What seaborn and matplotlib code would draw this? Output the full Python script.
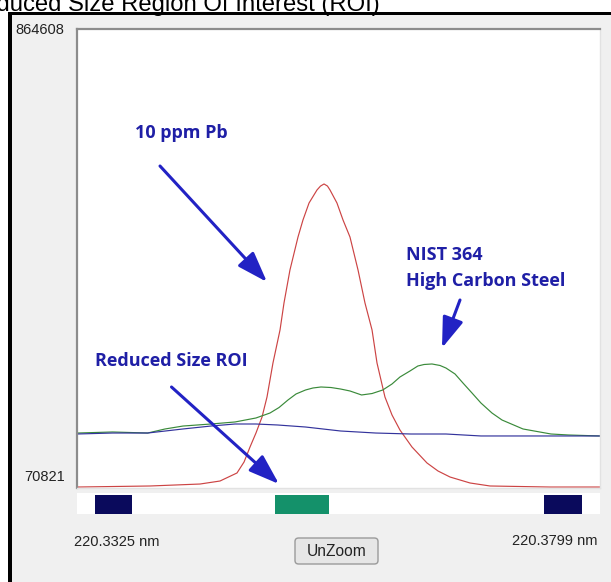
import numpy as np
import pandas as pd
import matplotlib
matplotlib.use("Agg")
import matplotlib.pyplot as plt
from matplotlib.patches import Rectangle, FancyBboxPatch, ArrowStyle, FancyArrowPatch
import seaborn as sns

# ---------------- data ----------------
wl_min, wl_max = 220.3325, 220.3799
int_min, int_max = 70821, 864608

pb_wl = [220.3325, 220.33912, 220.34365, 220.34546, 220.34700, 220.34764, 220.34818,
         220.34872, 220.34927, 220.34972, 220.35026, 220.35090, 220.35126, 220.35180,
         220.35253, 220.35298, 220.35353, 220.35425, 220.35457, 220.35489, 220.35520,
         220.35543, 220.35606, 220.35661, 220.35724, 220.35797, 220.35860, 220.35924,
         220.35969, 220.36005, 220.36041, 220.36105, 220.36177, 220.36286, 220.36422,
         220.36522, 220.36631, 220.36812, 220.36993, 220.37537, 220.3799]
pb_int = [72500, 74300, 77700, 82900, 96800, 115800, 141700,
          165900, 193600, 228200, 287000, 344100, 390800, 447800,
          504900, 534300, 563700, 586200, 593000, 596600, 593000,
          586200, 563700, 534300, 504900, 447800, 390800, 344100,
          287000, 257600, 228200, 197100, 171100, 141700, 114100,
          100200, 89800, 79500, 74300, 72500, 72500]

steel_wl = [220.33255, 220.33573, 220.33891, 220.34048, 220.34211, 220.34464, 220.34682,
            220.34872, 220.34999, 220.35081, 220.35162, 220.35235, 220.35321, 220.35389,
            220.35461, 220.35552, 220.35639, 220.35724, 220.35829, 220.35924, 220.36021,
            220.36105, 220.36177, 220.36268, 220.36339, 220.36395, 220.36467, 220.36540,
            220.36594, 220.36676, 220.36748, 220.36830, 220.36911, 220.37011, 220.37102,
            220.37292, 220.37546, 220.37705, 220.3799]
steel_int = [165900, 167700, 165900, 172900, 178000, 181500, 185000,
             191900, 200500, 210000, 223000, 233400, 240300, 243800,
             245500, 244600, 242000, 238600, 231700, 234200, 240300,
             250700, 262800, 273200, 281800, 284400, 285300, 282700,
             278300, 268000, 252400, 235100, 217800, 200500, 188400,
             172900, 164200, 162500, 160800]

blank_wl = [220.3325, 220.33573, 220.33891, 220.34211, 220.34464, 220.34682, 220.34872,
            220.35067, 220.35321, 220.35639, 220.35957, 220.36275, 220.36594, 220.36911,
            220.37229, 220.37546, 220.3799]
blank_int = [164200, 165900, 165900, 172900, 178000, 181500, 181500,
             179800, 176300, 169400, 165900, 164200, 164200, 160800,
             160800, 160800, 160800]

series_names = ["10 ppm Pb", "NIST 364", "Blank"]
series_colors = ["#cc4444", "#3a8a3a", "#33339c"]

roi_start = [220.33413, 220.35044, 220.37482]
roi_end = [220.33748, 220.35534, 220.37827]
roi_colors = ["#0a0a5c", "#14916a", "#0a0a5c"]

# ---------------- figure ----------------
W, H = 611, 582
fig = plt.figure(figsize=(W / 100, H / 100), dpi=100, facecolor="white")

def fx(px):
    return px / W

def fy(py):
    return 1 - py / H

# window background: black frame + light grey panel
fig.patches.append(Rectangle((fx(8), 0), 1, fy(12), transform=fig.transFigure,
                             facecolor="black", edgecolor="none", zorder=-20))
fig.patches.append(Rectangle((fx(12), 0), 1, fy(15), transform=fig.transFigure,
                             facecolor="#f0f0f0", edgecolor="none", zorder=-19))

fig.text(fx(-34.5), fy(11), "Reduced Size Region Of Interest (ROI)",
         fontsize=17.2, family="Liberation Sans", color="black",
         ha="left", va="baseline")

# main plot
ax = fig.add_axes([fx(77), fy(488), (600 - 77) / W, (488 - 29) / H])
frames = []
for name, wl, it in zip(series_names, [pb_wl, steel_wl, blank_wl], [pb_int, steel_int, blank_int]):
    frames.append(pd.DataFrame({"wl": wl, "intensity": it, "series": name}))
df = pd.concat(frames, ignore_index=True)
sns.lineplot(data=df, x="wl", y="intensity", hue="series", hue_order=series_names,
             palette=dict(zip(series_names, series_colors)), estimator=None,
             sort=False, linewidth=0.85, legend=False, ax=ax)
ax.set_xlim(wl_min, wl_max)
ax.set_ylim(int_min, int_max)
ax.set_xticks([])
ax.set_yticks([])
ax.set_xlabel("")
ax.set_ylabel("")
ax.set_facecolor("white")
for s in ["left", "top"]:
    ax.spines[s].set_color("#8c8c8c")
    ax.spines[s].set_linewidth(1.6)
for s in ["right", "bottom"]:
    ax.spines[s].set_color("#e2e2e2")
    ax.spines[s].set_linewidth(1.0)

# ROI strip
ax2 = fig.add_axes([fx(77), fy(514), (600 - 77) / W, 21 / H])
ax2.bar(x=roi_start, height=0.9, width=np.array(roi_end) - np.array(roi_start),
        bottom=0, align="edge", color=roi_colors, edgecolor="none")
ax2.set_xlim(wl_min, wl_max)
ax2.set_ylim(0, 1)
ax2.set_facecolor("white")
ax2.set_xticks([])
ax2.set_yticks([])
for s in ax2.spines.values():
    s.set_visible(False)

# axis range labels
lab = dict(family="Liberation Sans", fontsize=10.5, color="#222222")
fig.text(fx(64), fy(30), f"{int_max}", ha="right", va="center", **lab)
fig.text(fx(65), fy(477), f"{int_min}", ha="right", va="center", **lab)
fig.text(fx(74), fy(542), f"{wl_min:.4f} nm", ha="left", va="center", **lab)
fig.text(fx(598), fy(541), f"{wl_max:.4f} nm", ha="right", va="center", **lab)

# UnZoom button
fig.patches.append(FancyBboxPatch((fx(295), fy(564)), (378 - 295) / W, 26 / H,
                                  boxstyle="round,pad=0,rounding_size=0.006",
                                  transform=fig.transFigure, facecolor="#e6e6e6",
                                  edgecolor="#9a9a9a", linewidth=1.0, zorder=2))
fig.text(fx(337), fy(551), "UnZoom", ha="center", va="center",
         family="Liberation Sans", fontsize=11.2, color="#222222", zorder=3)

# annotations
tcol = "#1f1fa6"
acol = "#2222c4"
tfont = dict(family="Open Sans", fontweight="bold", fontsize=13, color=tcol)
fig.text(fx(135), fy(133), "10 ppm Pb", ha="left", va="center", **tfont)
fig.text(fx(406), fy(255), "NIST 364", ha="left", va="center", **tfont)
fig.text(fx(406), fy(281), "High Carbon Steel", ha="left", va="center", **tfont)
fig.text(fx(95), fy(361), "Reduced Size ROI", ha="left", va="center", **tfont)

astyle = ArrowStyle("-|>", head_length=1.1, head_width=0.38)
for (x0, y0), (x1, y1) in [((160, 166), (267, 282)),
                           ((460, 300), (442, 348)),
                           ((171.5, 387), (279, 484))]:
    fig.add_artist(FancyArrowPatch(
        (fx(x0), fy(y0)), (fx(x1), fy(y1)), transform=fig.transFigure,
        arrowstyle=astyle, mutation_scale=17, color=acol, linewidth=2.2,
        shrinkA=0, shrinkB=0, zorder=5))

fig.savefig("out.png", dpi=100, facecolor="white")
